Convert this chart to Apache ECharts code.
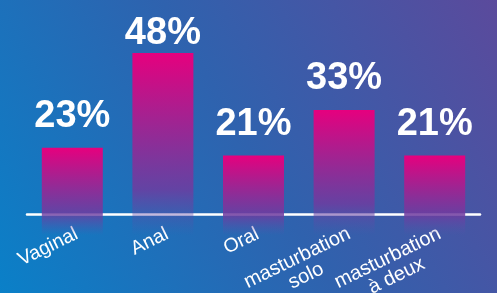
<!DOCTYPE html>
<html>
<head>
<meta charset="utf-8" />
<title>ECharts</title>
<script src="https://cdn.jsdelivr.net/npm/echarts@6.0.0/dist/echarts.min.js"></script>
<style>
html, body { margin: 0; padding: 0; }
</style>
</head>
<body>
<div id="main" style="width: 497px;height:293px;"></div>
<script type="text/javascript">
var categories = ['Vaginal', 'Anal', 'Oral', 'masturbation\nsolo', 'masturbation\nà deux'];
var values = [23, 48, 21, 33, 21];

var myChart = echarts.init(document.getElementById('main'));

// the tallest label sits closer to its bar in the original
var barData = values.map(function (v, i) {
  return i === 1 ? { value: v, label: { distance: 1 } } : v;
});

var option = {
  backgroundColor: {
    type: 'linear', x: 0, y: 1, x2: 1, y2: 0,
    colorStops: [
      { offset: 0, color: '#0a80c8' },
      { offset: 0.5, color: '#2f62ae' },
      { offset: 1, color: '#5b4a9c' }
    ]
  },
  grid: { left: 27, right: 17, top: 0, bottom: 58, containLabel: false, outerBoundsMode: 'none' },
  xAxis: {
    type: 'category',
    data: categories,
    offset: -21,
    axisLine: { lineStyle: { color: '#fff', width: 2.5 } },
    axisTick: { show: false },
    axisLabel: {
      interval: 0,
      hideOverlap: false,
      color: '#fff',
      fontFamily: 'Liberation Sans',
      fontSize: 19.5,
      rotate: 26,
      margin: 10,
      lineHeight: 20,
      align: 'right',
      verticalAlign: 'top',
      formatter: function (v) {
        var parts = v.split('\n');
        if (parts.length === 1) return v;
        return parts.map(function (s) { return '{m|' + s + '}'; }).join('\n');
      },
      rich: {
        m: { width: 114, align: 'center', color: '#fff', fontSize: 20, lineHeight: 20, fontFamily: 'Liberation Sans' }
      }
    }
  },
  yAxis: {
    type: 'value',
    min: 0,
    max: 62,
    show: false
  },
  series: [
    {
      type: 'bar',
      data: barData,
      barWidth: 61,
      itemStyle: {
        color: {
          type: 'linear', x: 0, y: 0, x2: 0, y2: 1,
          colorStops: [
            { offset: 0, color: '#e6007e' },
            { offset: 0.75, color: 'rgba(110,60,160,0.85)' },
            { offset: 1, color: 'rgba(90,80,170,0)' }
          ]
        }
      },
      label: {
        show: true,
        position: 'top',
        distance: 12,
        formatter: '{c}%',
        color: '#fff',
        fontFamily: 'Liberation Sans',
        fontWeight: 'bold',
        fontSize: 38
      }
    }
  ]
};

myChart.setOption(option);
</script>
</body>
</html>
